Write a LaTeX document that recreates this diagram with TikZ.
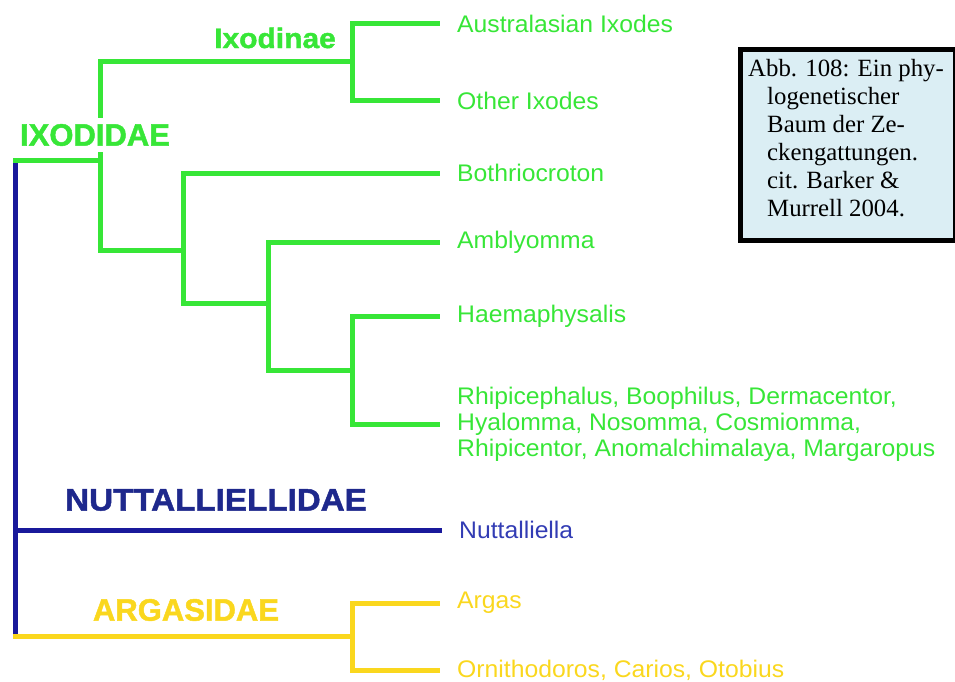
\documentclass[tikz,border=0pt]{standalone}
\usepackage{fontspec}
\setmainfont{Liberation Sans}
\newfontfamily\labfont{Liberation Sans}[FakeStretch=1.03]
\newfontfamily\headfont{Liberation Sans}[FakeBold=1.5]
\newfontfamily\headwide{Liberation Sans}[FakeBold=1.5, FakeStretch=1.07]
\newfontfamily\capfont{Liberation Serif}
\definecolor{tgreen}{RGB}{55,230,55}
\definecolor{tblue}{RGB}{25,25,155}
\definecolor{tbluetext}{RGB}{30,40,140}
\definecolor{tbluelight}{RGB}{50,60,180}
\definecolor{tyellow}{RGB}{250,215,30}
\definecolor{capbg}{RGB}{219,238,244}
\begin{document}
\begin{tikzpicture}[x=1pt,y=-1pt,
  branch/.style={line width=5pt, line cap=rect},
  gr/.style={branch, draw=tgreen},
  bl/.style={branch, draw=tblue},
  ye/.style={branch, draw=tyellow},
  leafend/.style={shorten >=19.5pt},
  leafstart/.style={shorten <=19.5pt},
  leaf/.style={anchor=west, inner sep=0pt, align=left,
    font={\labfont\fontsize{24}{26}\selectfont}},
  head/.style={inner sep=0pt, font={\headfont\bfseries\fontsize{31}{31}\selectfont}},
  capbox/.style={draw=black, line width=5pt, fill=capbg, minimum width=215pt, minimum height=190pt, inner sep=0pt}
]
\useasboundingbox (0,0) rectangle (955,682);

% junction coordinates
\coordinate (R1) at (15,160);
\coordinate (RN) at (15,530);
\coordinate (R2) at (15,636);
\coordinate (JI) at (100,160);
\coordinate (J1) at (352,62);
\coordinate (J2) at (183,250);
\coordinate (J3) at (268,303);
\coordinate (J4) at (352,370);
\coordinate (JA) at (352,636);

% leaf labels
\node[leaf, text=tgreen] (aus) at (457,24) {Australasian Ixodes};
\node[leaf, text=tgreen] (oth) at (457,101) {Other Ixodes};
\node[leaf, text=tgreen] (both) at (457,173) {Bothriocroton};
\node[leaf, text=tgreen] (amb) at (457,242) {Amblyomma};
\node[leaf, text=tgreen] (hae) at (457,316) {Haemaphysalis};
\node[leaf, text=tgreen] (rhi) at (457,424) {Rhipicephalus, Boophilus, Dermacentor,\\Hyalomma, Nosomma, Cosmiomma,\\Rhipicentor, Anomalchimalaya, Margaropus};
\node[leaf, text=tbluelight] (nut) at (459,530) {Nuttalliella};
\node[leaf, text=tyellow] (arg) at (457,603) {Argas};
\node[leaf, text=tyellow] (orn) at (457,670) {Ornithodoros, Carios, Otobius};

% blue trunk
\draw[bl] (R1) -- (R2);
\draw[bl, leafend] (RN) -- (nut.west);

% Ixodidae (green)
\draw[gr] (R1) -- (JI);
\draw[gr] (J1) -| (JI);
\draw[gr] (JI) |- (J2);
\draw[gr, leafstart, leafend] (aus.west) -| (J1) |- (oth.west);
\draw[gr, leafstart] (both.west) -| (J2);
\draw[gr] (J2) |- (J3);
\draw[gr, leafstart] (amb.west) -| (J3);
\draw[gr] (J3) |- (J4);
\draw[gr, leafstart, leafend] (hae.west) -| (J4) |- (rhi.west);

% Argasidae (yellow)
\draw[ye] (R2) -- (JA);
\draw[ye, leafstart, leafend] (arg.west) -| (JA) |- (orn.west);

% group labels
\node[head, text=tgreen, fill=white, inner xsep=0pt, inner ysep=6pt] (ixodidae) at (95,135) {IXODIDAE};
\node[head, text=tgreen, font={\headwide\bfseries\fontsize{28}{28}\selectfont}] (ixodinae) at (275,38) {Ixodinae};
\node[head, text=tbluetext, font={\headwide\bfseries\fontsize{31}{31}\selectfont}] (nuttfam) at (216,500) {NUTTALLIELLIDAE};
\node[head, text=tyellow] (argfam) at (186,610) {ARGASIDAE};

% caption
\node[capbox, anchor=north west] (cap) at (737.5,47.5) {};
\node[anchor=north west, inner sep=0pt, align=left,
  font={\capfont\fontsize{24.8}{28}\selectfont}] (captxt) at (748,59)
  {Abb. 108: Ein phy-\\
   \hspace*{19pt}logenetischer\\
   \hspace*{19pt}Baum der Ze-\\
   \hspace*{19pt}ckengattungen.\\
   \hspace*{19pt}cit. Barker \&\\
   \hspace*{19pt}Murrell 2004.};
\end{tikzpicture}
\end{document}
